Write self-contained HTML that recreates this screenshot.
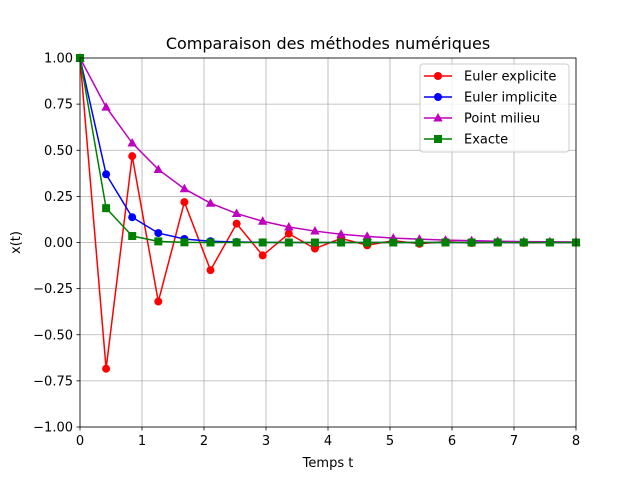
<!DOCTYPE html>
<html><head><meta charset="utf-8"><style>
body{margin:0;background:#fff;}
svg{display:block;font-family:"DejaVu Sans","Liberation Sans",sans-serif;}
</style></head><body>
<svg id="chart" width="640" height="480" viewBox="0 0 640 480"></svg>
<script>
const tValues = [0,0.421,0.842,1.263,1.684,2.105,2.526,2.947,3.368,3.789,4.211,4.632,5.053,5.474,5.895,6.316,6.737,7.158,7.579,8];
const eulerExplicit = [1,-0.684,0.468,-0.320,0.219,-0.150,0.102,-0.070,0.048,-0.033,0.022,-0.015,0.010,-0.007,0.005,-0.003,0.002,-0.002,0.001,-0.001];
const eulerImplicit = [1,0.37,0.137,0.051,0.019,0.007,0.003,0.001,0,0,0,0,0,0,0,0,0,0,0,0];
const pointMilieu = [1,0.734,0.539,0.396,0.291,0.213,0.157,0.115,0.084,0.062,0.045,0.033,0.024,0.018,0.013,0.010,0.007,0.005,0.004,0.003];
const exacte = [1,0.186,0.035,0.006,0.001,0,0,0,0,0,0,0,0,0,0,0,0,0,0,0];
const xTicks = [0,1,2,3,4,5,6,7,8];
const yTicks = [-1,-0.75,-0.5,-0.25,0,0.25,0.5,0.75,1];
const yTickLabels = ["\u22121.00","\u22120.75","\u22120.50","\u22120.25","0.00","0.25","0.50","0.75","1.00"];

const L=80,R=576,T=58,B=427;
const xs=v=>L+(v-0)/(8-0)*(R-L);
const ys=v=>B-(v+1)/2*(B-T);
const svg=document.getElementById('chart');
const NS='http://www.w3.org/2000/svg';
function mk(tag,attrs,parent){const e=document.createElementNS(NS,tag);for(const k in attrs)e.setAttribute(k,attrs[k]);(parent||svg).appendChild(e);return e;}

const grid=mk('g',{});


xTicks.forEach(v=>{mk('line',{x1:xs(v),x2:xs(v),y1:T,y2:B,stroke:'#b0b0b0','stroke-width':0.8},grid);});
yTicks.forEach(v=>{mk('line',{x1:L,x2:R,y1:ys(v),y2:ys(v),stroke:'#b0b0b0','stroke-width':0.8},grid);});

const xt=mk('g',{});


xTicks.forEach(v=>{mk('line',{x1:xs(v),x2:xs(v),y1:B,y2:B+3.5,stroke:'#000','stroke-width':0.8},xt);
 const t=mk('text',{x:xs(v),y:B+18,'text-anchor':'middle','font-size':13},xt);t.textContent=v;});
const yt=mk('g',{});


yTicks.forEach((v,i)=>{mk('line',{x1:L-3.5,x2:L,y1:ys(v),y2:ys(v),stroke:'#000','stroke-width':0.8},yt);
 const t=mk('text',{x:L-7,y:ys(v)+4.5,'text-anchor':'end','font-size':13},yt);t.textContent=yTickLabels[i];});

const series=[
 {name:'euler-explicit',data:eulerExplicit,color:'#ff0000',m:'circle'},
 {name:'euler-implicit',data:eulerImplicit,color:'#0000ff',m:'circle'},
 {name:'point-milieu',data:pointMilieu,color:'#bf00bf',m:'tri'},
 {name:'exacte',data:exacte,color:'#008000',m:'square'}];
function marker(g,m,x,y,c){
 if(m==='circle')mk('circle',{cx:x,cy:y,r:4,fill:c},g);
 else if(m==='square')mk('rect',{x:x-4,y:y-4,width:8,height:8,fill:c},g);
 else mk('polygon',{points:`${x},${y-5} ${x-4.7},${y+3.5} ${x+4.7},${y+3.5}`,fill:c},g);
}
series.forEach(s=>{
 const g=mk('g',{});
 
 
 mk('polyline',{points:s.data.map((v,i)=>xs(tValues[i])+','+ys(v)).join(' '),fill:'none',stroke:s.color,'stroke-width':1.5},g);
 s.data.forEach((v,i)=>marker(g,s.m,xs(tValues[i]),ys(v),s.color));
});

const frame=mk('rect',{x:L,y:T,width:R-L,height:B-T,fill:'none',stroke:'#000','stroke-width':0.8});



const title=mk('text',{x:(L+R)/2,y:49,'text-anchor':'middle','font-size':16});
title.textContent='Comparaison des méthodes numériques';


const xl=mk('text',{x:(L+R)/2,y:467,'text-anchor':'middle','font-size':13});
xl.textContent='Temps t';


const yl=mk('text',{x:20,y:(T+B)/2,'text-anchor':'middle','font-size':13,transform:`rotate(-90 20 ${(T+B)/2})`});
yl.textContent='x(t)';



const lg=mk('g',{});


mk('rect',{x:420,y:64,width:149,height:88,rx:3,fill:'#fff','fill-opacity':0.8,stroke:'#cccccc'},lg);
const labels=['Euler explicite','Euler implicite','Point milieu','Exacte'];
series.forEach((s,i)=>{
 const y=76+i*21;
 const e=mk('g',{},lg);
 
 
 mk('line',{x1:424,x2:452,y1:y,y2:y,stroke:s.color,'stroke-width':1.5},e);
 marker(e,s.m,438,y,s.color);
 const t=mk('text',{x:464,y:y+4.5,'font-size':13},e);t.textContent=labels[i];
});
</script>
</body></html>
